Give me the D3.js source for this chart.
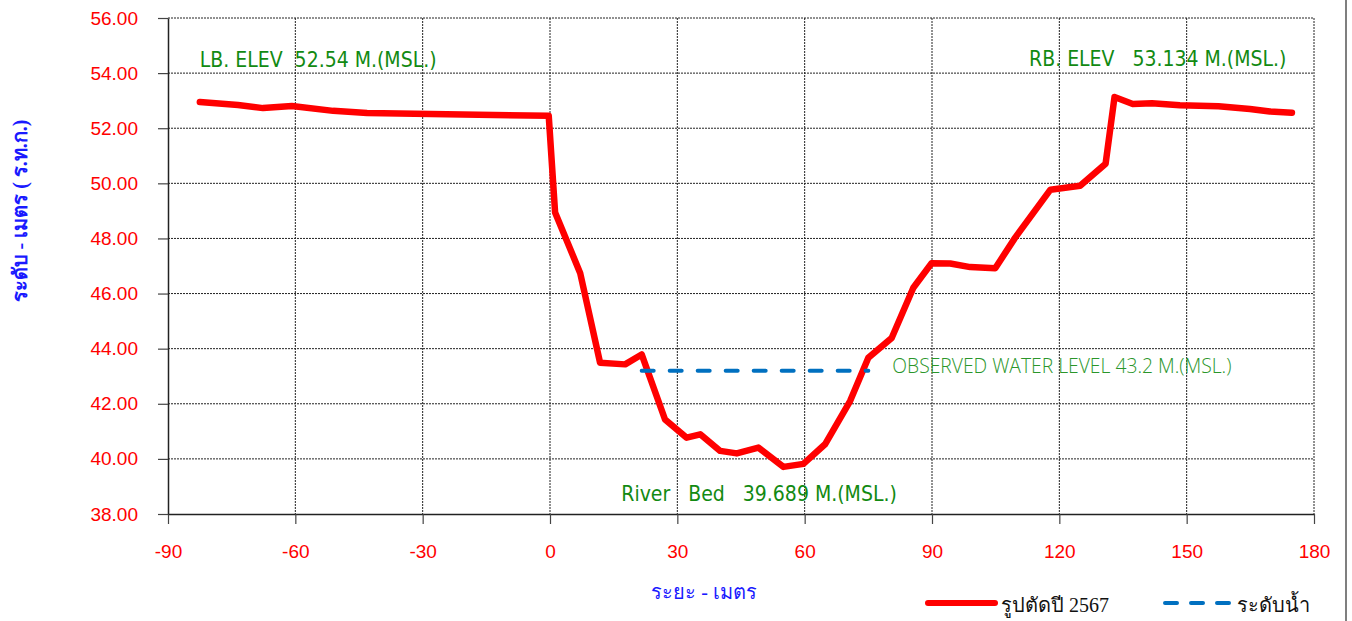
<!DOCTYPE html>
<html>
<head>
<meta charset="utf-8">
<script src="https://cdn.jsdelivr.net/npm/d3@7"></script>
<style>
    body { margin: 0; background: #fff; }
    svg { display: block; }
    text { white-space: pre; }
</style>
</head>
<body>
<div id="chart"></div>
<script>
/* ----------------------------------------------------- Data -------------------------------------------------------------------------- */

// distance (m) and elevation (m MSL) of the 2567 cross section
const distances = [-82.5, -73.5, -67.6, -60.8, -51.1, -43.1, -0.3, 1.2, 7.1, 11.8, 17.7, 21.6, 27.1, 32.2, 35.4,
    40.1, 44.0, 49.1, 55.0, 59.7, 64.8, 70.7, 75.0, 80.5, 85.6, 89.9, 94.3, 99.0, 104.9, 109.6, 117.9, 124.9,
    130.9, 133.0, 137.3, 141.8, 148.4, 157.5, 164.9, 169.6, 174.8];
const elevations = [52.95, 52.84, 52.73, 52.81, 52.63, 52.55, 52.45, 48.94, 46.75, 43.49, 43.43, 43.79, 41.43, 40.77, 40.89,
    40.29, 40.20, 40.41, 39.71, 39.82, 40.53, 42.10, 43.67, 44.39, 46.21, 47.10, 47.09, 46.96, 46.92, 48.03, 49.77, 49.91,
    50.71, 53.13, 52.88, 52.91, 52.83, 52.80, 52.70, 52.61, 52.56];

const waterDistances = [21.6, 75.0];
const waterLevel = 43.2;

const xTicks = [-90, -60, -30, 0, 30, 60, 90, 120, 150, 180];
const yTicks = [38, 40, 42, 44, 46, 48, 50, 52, 54, 56];

const annotations = [
    { x: -82.5, y: 54.22, anchor: 'start', text: 'LB. ELEV  52.54 M.(MSL.)' },
    { x: 173.5, y: 54.27, anchor: 'end', text: 'RB. ELEV   53.134 M.(MSL.)' },
    { x: 16.8, y: 38.46, anchor: 'start', text: 'River   Bed   39.689 M.(MSL.)' }
];

/* ----------------------------------------------------- Chart ------------------------------------------------------------------------- */

const width = 1352;
const height = 621;
const margin = { top: 18, right: 38, bottom: 107, left: 168 };

const svg = d3.select('#chart').append('svg')
    .attr('width', width)
    .attr('height', height);

const xScale = d3.scaleLinear()
    .domain([-90, 180])
    .range([margin.left, width - margin.right]);

const yScale = d3.scaleLinear()
    .domain([38, 56])
    .range([height - margin.bottom, margin.top]);

/* grid */
svg.append('g')
    .selectAll('line')
    .data(xTicks.slice(1))
    .enter().append('line')
    .attr('x1', d => xScale(d)).attr('x2', d => xScale(d))
    .attr('y1', yScale(56)).attr('y2', yScale(38))
    .attr('stroke', '#222').attr('stroke-width', 1).attr('stroke-dasharray', '2,1');

svg.append('g')
    .selectAll('line')
    .data(yTicks.slice(1))
    .enter().append('line')
    .attr('x1', xScale(-90)).attr('x2', xScale(180))
    .attr('y1', d => yScale(d)).attr('y2', d => yScale(d))
    .attr('stroke', '#222').attr('stroke-width', 1).attr('stroke-dasharray', '2,1');

/* axes */
const xAxis = svg.append('g')
    .attr('transform', `translate(0, ${yScale(38)})`)
    .call(d3.axisBottom(xScale).tickValues(xTicks).tickFormat(d => String(d))
        .tickSize(10).tickPadding(21).tickSizeOuter(0));

const yAxis = svg.append('g')
    .attr('transform', `translate(${xScale(-90)}, 0)`)
    .call(d3.axisLeft(yScale).tickValues(yTicks).tickFormat(d => d.toFixed(2))
        .tickSize(10).tickPadding(20).tickSizeOuter(0));

[xAxis, yAxis].forEach(function (axis) {
    axis.select('.domain').attr('stroke', '#222').attr('stroke-width', 1.5);
    axis.selectAll('.tick line').attr('stroke', '#444').attr('stroke-width', 1.2);
    axis.selectAll('text')
        .attr('fill', '#ff0000')
        .style('font-family', '"Liberation Sans", Arial, sans-serif')
        .style('font-size', '19px');
});

/* cross section */
const points = distances.map((d, i) => [d, elevations[i]]);

svg.append('path')
    .datum(points)
    .attr('fill', 'none')
    .attr('stroke', '#ff0000')
    .attr('stroke-width', 6.5)
    .attr('stroke-linejoin', 'round')
    .attr('stroke-linecap', 'round')
    .attr('d', d3.line().x(d => xScale(d[0])).y(d => yScale(d[1])));

/* water level */
svg.append('line')
    .attr('x1', xScale(waterDistances[0])).attr('x2', xScale(waterDistances[1]))
    .attr('y1', yScale(waterLevel)).attr('y2', yScale(waterLevel))
    .attr('stroke', '#0070c0')
    .attr('stroke-width', 4)
    .attr('stroke-linecap', 'round')
    .attr('stroke-dasharray', '12,16');

/* annotations */
svg.selectAll('.note')
    .data(annotations)
    .enter().append('text')
    .attr('class', 'note')
    .attr('x', d => xScale(d.x))
    .attr('y', d => yScale(d.y))
    .attr('text-anchor', d => d.anchor)
    .attr('fill', '#128a12')
    .style('font-family', '"DejaVu Sans Condensed", "DejaVu Sans", sans-serif')
    .style('font-stretch', 'condensed')
    .style('font-size', '21px')
    .text(d => d.text);

svg.append('text')
    .attr('x', xScale(waterDistances[1]) + 24)
    .attr('y', yScale(waterLevel) - 3)
    .attr('dominant-baseline', 'middle')
    .attr('fill', '#2a962a')
    .style('font-family', '"Open Sans", sans-serif')
    .style('font-weight', 300)
    .style('font-size', '19.3px')
    .text(`OBSERVED WATER LEVEL ${waterLevel} M.(MSL.)`);

/* axis titles */
svg.append('text')
    .attr('transform', `translate(22, 211) rotate(-90)`)
    .attr('text-anchor', 'middle')
    .attr('dominant-baseline', 'middle')
    .attr('fill', '#1a1aff')
    .style('font-weight', 'bold')
    .style('font-size', '20px')
    .text('ระดับ - เมตร ( ร.ท.ก.)');

svg.append('text')
    .attr('x', 704)
    .attr('y', 599)
    .attr('text-anchor', 'middle')
    .attr('fill', '#1a1aff')
    .style('font-size', '20px')
    .text('ระยะ - เมตร');

/* legend */
const legend = svg.append('g');
legend.append('line')
    .attr('x1', 928).attr('x2', 995).attr('y1', 603).attr('y2', 603)
    .attr('stroke', '#ff0000').attr('stroke-width', 6).attr('stroke-linecap', 'round');
legend.append('text')
    .attr('x', 1001).attr('y', 612)
    .attr('fill', '#111')
    .style('font-size', '20px')
    .text('รูปตัดปี 2567');
legend.append('line')
    .attr('x1', 1165).attr('x2', 1232).attr('y1', 603).attr('y2', 603)
    .attr('stroke', '#0070c0').attr('stroke-width', 4).attr('stroke-linecap', 'round')
    .attr('stroke-dasharray', '12,14');
legend.append('text')
    .attr('x', 1237).attr('y', 612)
    .attr('fill', '#111')
    .style('font-size', '20px')
    .text('ระดับน้ำ');

/* outer frame edge */
svg.append('line')
    .attr('x1', 1346).attr('x2', 1346).attr('y1', 0).attr('y2', height)
    .attr('stroke', '#555').attr('stroke-width', 1.5);
</script>
</body>
</html>
